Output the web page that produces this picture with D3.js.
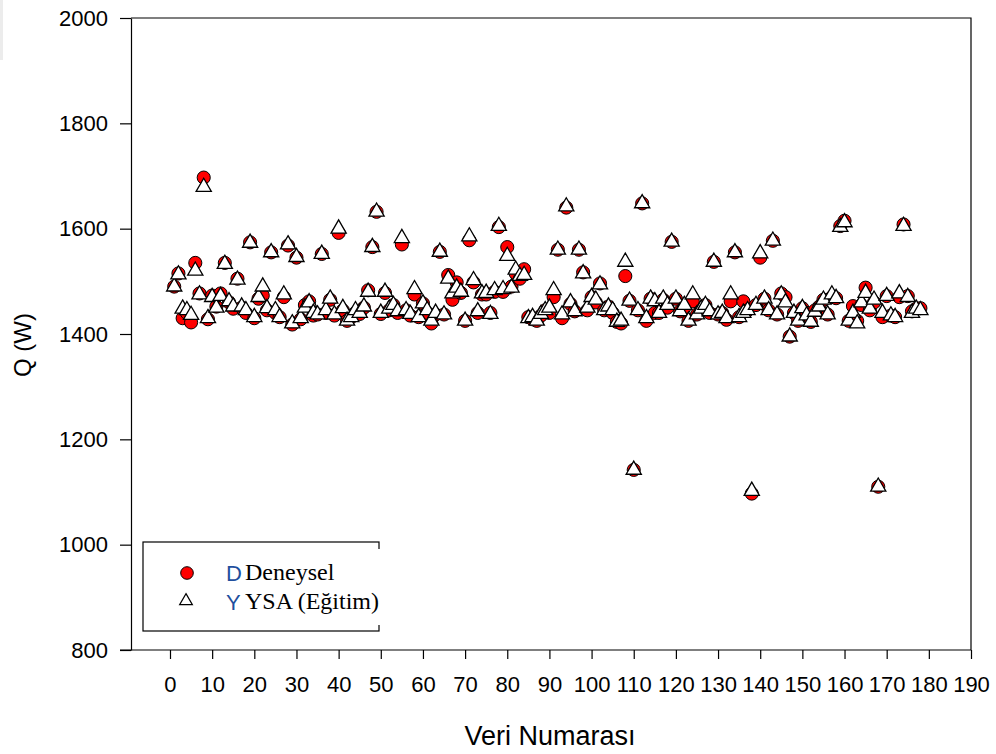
<!DOCTYPE html>
<html>
<head>
<meta charset="utf-8">
<script src="https://cdn.jsdelivr.net/npm/d3@7"></script>
<style>
  body { margin: 0; background: #fff; }
  svg { display: block; }
</style>
</head>
<body>
<svg id="chart" width="996" height="754"></svg>
<script>
// Data number (Veri Numarası) for each measurement
const veriNo = d3.range(1, 179);

// Experimental heat rate Q (W)
const deneysel = [
  1490, 1515, 1430, 1440, 1422, 1535, 1477, 1697, 1428, 1473,
  1452, 1477, 1535, 1460, 1448, 1505, 1450, 1440, 1574, 1430,
  1467, 1473, 1445, 1555, 1440, 1432, 1470, 1568, 1418, 1545,
  1428, 1455, 1462, 1435, 1437, 1552, 1440, 1465, 1435, 1592,
  1445, 1425, 1432, 1440, 1438, 1450, 1483, 1565, 1632, 1438,
  1478, 1445, 1455, 1440, 1570, 1445, 1435, 1475, 1432, 1458,
  1440, 1420, 1437, 1556, 1437, 1512, 1465, 1498, 1478, 1425,
  1578, 1498, 1440, 1475, 1475, 1440, 1480, 1603, 1480, 1565,
  1490, 1515, 1505, 1523, 1432, 1428, 1425, 1435, 1445, 1440,
  1470, 1560, 1430, 1640, 1457, 1443, 1560, 1517, 1445, 1470,
  1460, 1496, 1445, 1452, 1440, 1423, 1420, 1510, 1463, 1142,
  1445, 1648, 1425, 1467, 1440, 1440, 1465, 1450, 1575, 1467,
  1443, 1450, 1425, 1462, 1437, 1445, 1455, 1440, 1537, 1437,
  1440, 1427, 1462, 1555, 1432, 1462, 1445, 1097, 1455, 1545,
  1467, 1445, 1577, 1437, 1477, 1470, 1395, 1440, 1425, 1449,
  1440, 1423, 1445, 1452, 1465, 1437, 1470, 1468, 1605, 1615,
  1425, 1453, 1425, 1455, 1488, 1445, 1460, 1110, 1432, 1472,
  1435, 1432, 1470, 1608, 1472, 1443, 1448, 1449
];

// ANN (training) predictions of Q (W)
const ysa = [
  1490, 1513, 1448, 1445, 1436, 1520, 1475, 1679, 1430, 1470,
  1450, 1472, 1533, 1462, 1452, 1503, 1452, 1445, 1573, 1432,
  1470, 1490, 1449, 1555, 1445, 1432, 1475, 1570, 1420, 1546,
  1430, 1450, 1460, 1440, 1437, 1552, 1445, 1467, 1437, 1600,
  1449, 1425, 1432, 1445, 1440, 1452, 1480, 1565, 1632, 1440,
  1480, 1448, 1455, 1443, 1582, 1445, 1438, 1485, 1432, 1458,
  1445, 1425, 1440, 1556, 1437, 1505, 1477, 1488, 1480, 1425,
  1585, 1502, 1443, 1477, 1478, 1438, 1483, 1605, 1485, 1548,
  1488, 1522, 1510, 1512, 1430, 1432, 1425, 1438, 1445, 1450,
  1483, 1560, 1437, 1642, 1460, 1443, 1560, 1515, 1450, 1470,
  1465, 1494, 1445, 1452, 1445, 1423, 1425, 1537, 1463, 1142,
  1445, 1648, 1430, 1467, 1462, 1440, 1467, 1455, 1575, 1467,
  1443, 1455, 1425, 1475, 1437, 1448, 1455, 1443, 1537, 1437,
  1440, 1430, 1475, 1555, 1432, 1440, 1445, 1102, 1455, 1553,
  1467, 1445, 1577, 1437, 1475, 1460, 1395, 1440, 1425, 1449,
  1435, 1423, 1442, 1452, 1465, 1437, 1475, 1468, 1603, 1612,
  1425, 1440, 1420, 1460, 1478, 1448, 1465, 1110, 1440, 1472,
  1435, 1432, 1477, 1605, 1470, 1440, 1448, 1445
];

const xTicks = d3.range(0, 191, 10);
const yTicks = d3.range(800, 2001, 200);

const svg = d3.select("#chart");
const plotL = 131, plotR = 971, plotT = 18, plotB = 650;

const x = d3.scaleLinear().domain([-9.25, 190]).range([plotL, plotR]);
const y = d3.scaleLinear().domain([800, 2000]).range([plotB, plotT]);

// faint strip at the top-left edge
svg.append("rect").attr("x", 0).attr("y", 0).attr("width", 3).attr("height", 60).attr("fill", "#ececec");

// frame
svg.append("path")
  .attr("d", `M${plotL},${plotT}H${plotR}V${plotB}`)
  .attr("fill", "none").attr("stroke", "#000").attr("stroke-width", 1.2);

const tickFont = "'Liberation Sans', Arial, sans-serif";
const fmt = d3.format("d");

const gx = svg.append("g").attr("transform", `translate(0,${plotB})`)
  .call(d3.axisBottom(x).tickValues(xTicks).tickFormat(fmt).tickSize(9).tickPadding(17).tickSizeOuter(0));
const gy = svg.append("g").attr("transform", `translate(${plotL},0)`)
  .call(d3.axisLeft(y).tickValues(yTicks).tickFormat(fmt).tickSize(11).tickPadding(12).tickSizeOuter(0));

[gx, gy].forEach(g => {
  g.select(".domain").attr("stroke", "#000").attr("stroke-width", 1.2);
  g.selectAll(".tick line").attr("stroke", "#000").attr("stroke-width", 1.2);
  g.selectAll(".tick text").attr("fill", "#000").style("font-family", tickFont).style("font-size", "22px");
});
gx.select(".domain").attr("d", `M${plotL - 11},0H${plotR}`);

// axis titles
svg.append("text")
  .attr("x", 550).attr("y", 745)
  .attr("text-anchor", "middle")
  .style("font-family", tickFont).style("font-size", "27px")
  .text("Veri Numarası");

svg.append("text")
  .attr("transform", "translate(31,345) rotate(-90)")
  .attr("text-anchor", "middle")
  .style("font-family", tickFont).style("font-size", "24px")
  .text("Q (W)");

// data marks
const circle = d3.symbol().type(d3.symbolCircle).size(135);
const tri = d3.symbol().type(d3.symbolTriangle).size(100);

svg.append("g").selectAll("path")
  .data(veriNo.map((v, i) => [v, deneysel[i]]))
  .join("path")
  .attr("d", circle)
  .attr("transform", d => `translate(${x(d[0])},${y(d[1])})`)
  .attr("fill", "#ff0000").attr("stroke", "#000").attr("stroke-width", 1);

svg.append("g").selectAll("path")
  .data(veriNo.map((v, i) => [v, ysa[i]]))
  .join("path")
  .attr("d", tri)
  .attr("transform", d => `translate(${x(d[0])},${y(d[1])})`)
  .attr("fill", "#fff").attr("stroke", "#000").attr("stroke-width", 1.3);

// legend
const lg = svg.append("g");
lg.append("rect").attr("x", 143).attr("y", 542).attr("width", 236).attr("height", 89)
  .attr("fill", "#fff").attr("stroke", "#000").attr("stroke-width", 1.2);
lg.append("path").attr("d", d3.symbol().type(d3.symbolCircle).size(125))
  .attr("transform", "translate(187,573)")
  .attr("fill", "#ff0000").attr("stroke", "#000").attr("stroke-width", 1);
lg.append("path").attr("d", d3.symbol().type(d3.symbolTriangle).size(70))
  .attr("transform", "translate(186,601)")
  .attr("fill", "#fff").attr("stroke", "#000").attr("stroke-width", 1.2);
// underlying sans labels, mostly covered by the serif label box
lg.append("text").attr("x", 226).attr("y", 581)
  .style("font-family", tickFont).style("font-size", "22px").attr("fill", "#1f4f9e").text("D");
lg.append("text").attr("x", 226).attr("y", 610)
  .style("font-family", tickFont).style("font-size", "22px").attr("fill", "#1f4f9e").text("Y");
// serif label box laid over the legend text
lg.append("rect").attr("x", 243).attr("y", 549).attr("width", 140).attr("height", 76).attr("fill", "#fff");
const serif = "'Liberation Serif', 'Times New Roman', serif";
lg.append("text").attr("x", 245).attr("y", 580)
  .style("font-family", serif).style("font-size", "24px").attr("fill", "#000").text("Deneysel");
lg.append("text").attr("x", 245).attr("y", 609)
  .style("font-family", serif).style("font-size", "24px").attr("fill", "#000").text("YSA (Eğitim)");
</script>
</body>
</html>
